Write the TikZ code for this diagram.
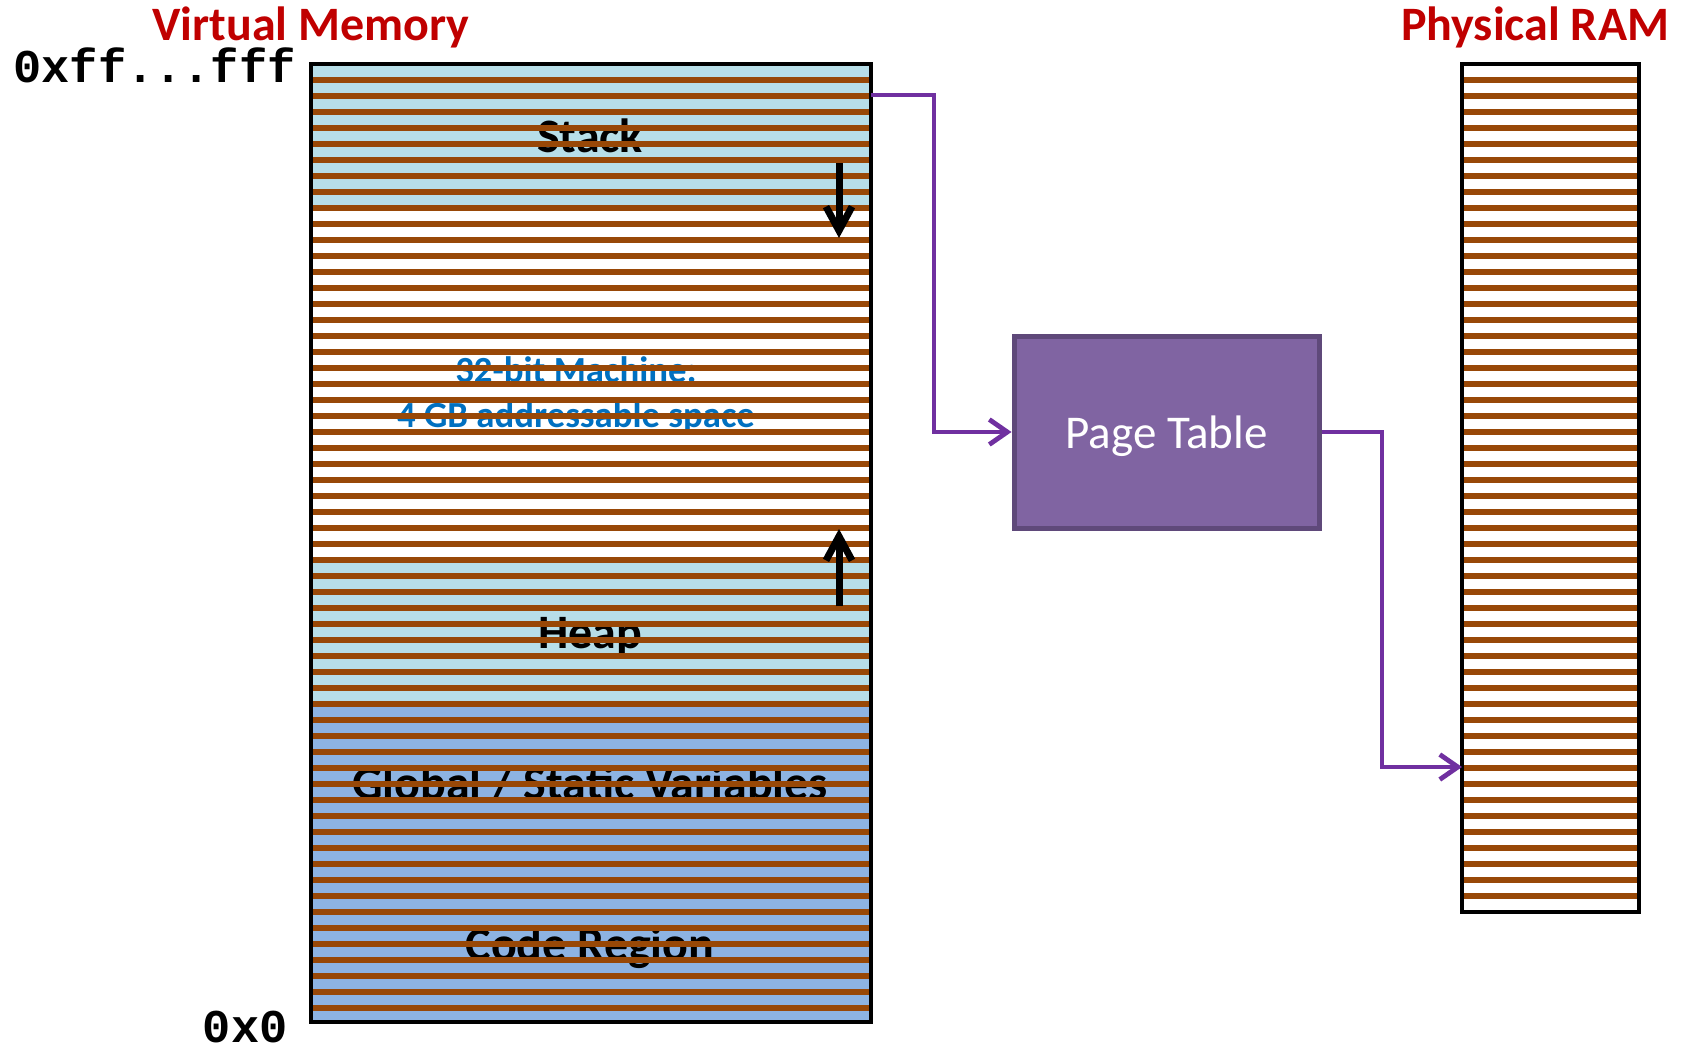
\documentclass[tikz,border=0pt]{standalone}
\usepackage{fontspec}
\setmainfont{Carlito}
\setmonofont{Liberation Mono}
\usetikzlibrary{arrows.meta}

\definecolor{stackblue}{HTML}{B7DEE8}
\definecolor{codeblue}{HTML}{8DB3E2}
\definecolor{pagebrown}{HTML}{984807}
\definecolor{linkpurple}{HTML}{7030A0}
\definecolor{tablefill}{HTML}{8064A2}
\definecolor{tableedge}{HTML}{5F497A}
\definecolor{titlered}{HTML}{C00000}
\definecolor{noteblue}{HTML}{0070C0}

\begin{document}
\begin{tikzpicture}[x=0.5pt,y=-0.5pt,
  titletext/.style={text=titlered,font=\fontsize{24}{28}\selectfont\bfseries,inner sep=0pt},
  addrtext/.style={font=\fontsize{23.5}{28}\selectfont\ttfamily\bfseries,inner sep=0pt,text depth=0pt},
  regiontext/.style={font=\fontsize{24}{28}\selectfont\bfseries,inner sep=0pt},
  notetext/.style={text=noteblue,font=\fontsize{18.4}{22}\selectfont\bfseries,inner sep=0pt},
  stripeline/.style={draw=pagebrown,line width=3pt},
  boxedge/.style={draw=black,line width=2.25pt},
  linkarrow/.style={draw=linkpurple,line width=2.4pt,-{Straight Barb[length=9pt,width=12.5pt]}},
  growarrow/.style={draw=black,line width=3.5pt,-{Straight Barb[length=12pt,width=13pt]}},
  tablebox/.style={fill=tablefill,draw=tableedge,line width=2.5pt,text=white,
    font=\fontsize{23.5}{28}\selectfont,minimum width=152.5pt,minimum height=96pt,
    inner sep=0pt,text depth=0pt},
  memblock/.style={inner sep=0pt,outer sep=0pt}
]
\useasboundingbox (0,0) rectangle (1682,1049);
\fill[white] (0,0) rectangle (1682,1049);

% memory blocks
\node[memblock,minimum width=280pt,minimum height=479pt] (vm) at (591,543) {};
\node[memblock,minimum width=88.5pt,minimum height=424pt] (ram) at (1550.5,488) {};

% address space regions
\fill[stackblue] (311,64) rectangle (871,208);
\fill[stackblue] (311,560) rectangle (871,704);
\fill[codeblue] (311,704) rectangle (871,1022);

% titles and address labels
\node[titletext,anchor=base] (vmtitle) at (311,40) {Virtual Memory};
\node[titletext,anchor=base] (ramtitle) at (1535,40) {Physical RAM};
\node[addrtext,anchor=base east] (hiaddr) at (296,83) {0xff...fff};
\node[addrtext,anchor=base east] (loaddr) at (288,1042) {0x0};

% region labels
\node[regiontext,anchor=base] (stacklbl) at (590,152) {Stack};
\node[regiontext,anchor=base] (heaplbl) at (590,648) {Heap};
\node[regiontext,anchor=base] (globlbl) at (590,799) {Global / Static Variables};
\node[regiontext,anchor=base] (codelbl) at (590,960) {Code Region};
\node[notetext,anchor=base] (note1) at (576,382) {32-bit Machine:};
\node[notetext,anchor=base] (note2) at (576,427) {4 GB addressable space};

% pages
\foreach \k in {0,...,58}
  \draw[stripeline] (313,{80+16*\k}) -- (869,{80+16*\k});
\foreach \k in {0,...,51}
  \draw[stripeline] (1464,{80+16*\k}) -- (1637,{80+16*\k});

% outlines
\draw[boxedge] (vm.north west) rectangle (vm.south east);
\draw[boxedge] (ram.north west) rectangle (ram.south east);

% growth directions
\coordinate (stacktail) at (839,163);
\coordinate (stackhead) at (839,238);
\coordinate (heaptail) at (839,606);
\coordinate (heaphead) at (839,529);
\draw[growarrow] (stacktail) -- (stackhead);
\draw[growarrow] (heaptail) -- (heaphead);

% translation
\node[tablebox] (pt) at (1166.5,432) {Page Table};
\coordinate (vmport) at (871,95);
\coordinate (bendin) at (934,95);
\coordinate (bendout) at (1382,432);
\coordinate (ramport) at (1462,767);
\draw[linkarrow] (vmport) -- (bendin) |- (pt.west);
\draw[linkarrow] (pt.east) -- (bendout) |- (ramport);
\end{tikzpicture}
\end{document}
